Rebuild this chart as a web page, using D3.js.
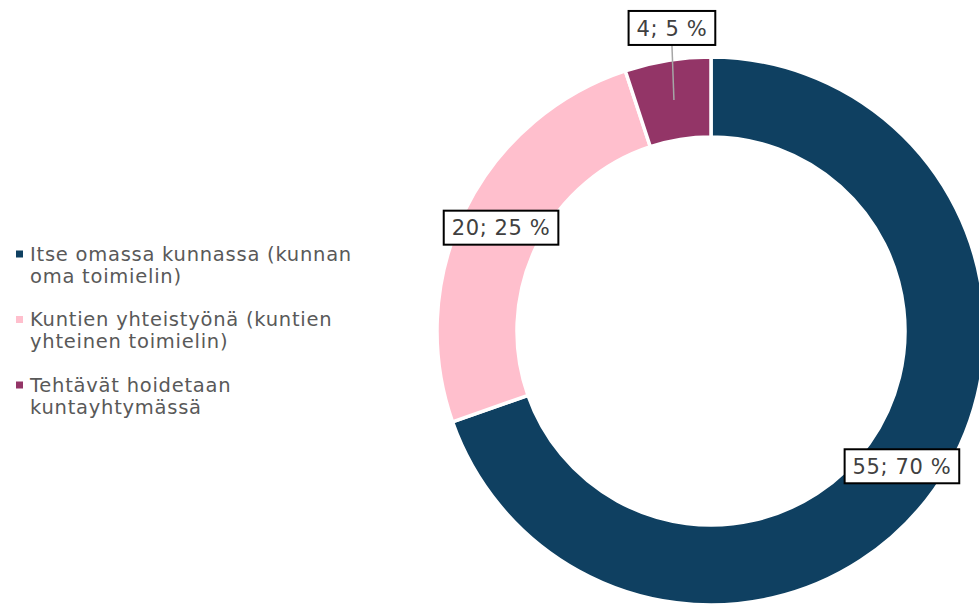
<!DOCTYPE html>
<html>
<head>
<meta charset="utf-8">
<script src="https://cdn.jsdelivr.net/npm/d3@7"></script>
<style>
  body { margin: 0; background: #fff; }
  svg { display: block; font-family: "DejaVu Sans", "Open Sans", sans-serif; }
</style>
</head>
<body>
<svg width="979" height="604"></svg>
<script>
var categories = [
	["Itse omassa kunnassa (kunnan", "oma toimielin)"],
	["Kuntien yhteistyönä (kuntien", "yhteinen toimielin)"],
	["Tehtävät hoidetaan", "kuntayhtymässä"]
];
var values = [55, 20, 4];
var colors = ["#0f4061", "#ffbfcd", "#933567"];

var svg = d3.select("svg"),
	cx = 711,
	cy = 331,
	outerR = 274,
	innerR = 194;

var total = d3.sum(values);
var pie = d3.pie().sort(null).value(function(d) { return d; });
var arcs = pie(values);
var arc = d3.arc().innerRadius(innerR).outerRadius(outerR);

var g = svg.append("g")
	.attr("transform", "translate(" + cx + "," + cy + ")");

g.selectAll(".slice")
	.data(arcs)
	.enter().append("path")
	.attr("class", "slice")
	.attr("d", arc)
	.attr("fill", function(d, i) { return colors[i]; })
	.attr("stroke", "#fff")
	.attr("stroke-width", 3.5);

// labels at arc centroid, the small one pushed up with a leader line
var labelOffset = [[0, 0], [0, 0], [-2, -72]];
arcs.forEach(function(d, i) {
	var c = arc.centroid(d);
	var lx = c[0] + labelOffset[i][0],
		ly = c[1] + labelOffset[i][1];
	var txt = values[i] + "; " + Math.round(values[i] / total * 100) + " %";
	var lg = g.append("g");
	if (labelOffset[i][1] != 0) {
		lg.append("line")
			.attr("x1", c[0]).attr("y1", c[1])
			.attr("x2", lx).attr("y2", ly + 17)
			.attr("stroke", "#a6a6a6")
			.attr("stroke-width", 1.5);
	}
	var rect = lg.append("rect").attr("fill", "#fff").attr("stroke", "#000").attr("stroke-width", 2);
	var t = lg.append("text")
		.attr("x", lx).attr("y", ly)
		.attr("dy", "0.36em")
		.attr("text-anchor", "middle")
		.attr("font-size", 21)
		.attr("letter-spacing", 0.6)
		.attr("fill", "#404040")
		.text(txt);
	var bb = t.node().getBBox();
	rect.attr("x", lx - bb.width / 2 - 8)
		.attr("y", ly - 17)
		.attr("width", bb.width + 16)
		.attr("height", 34);
});

// legend
var legend = svg.append("g").attr("transform", "translate(16,254)");
categories.forEach(function(lines, i) {
	var item = legend.append("g").attr("transform", "translate(0," + (i * 65.5) + ")");
	item.append("rect")
		.attr("x", 0).attr("y", -3.5)
		.attr("width", 7).attr("height", 7)
		.attr("fill", colors[i]);
	item.selectAll("text")
		.data(lines)
		.enter().append("text")
		.attr("x", 14)
		.attr("y", function(d, j) { return j * 22; })
		.attr("dy", "0.35em")
		.attr("font-size", 19.5)
		.attr("letter-spacing", 0.75)
		.attr("fill", "#595959")
		.text(function(d) { return d; });
});
</script>
</body>
</html>
